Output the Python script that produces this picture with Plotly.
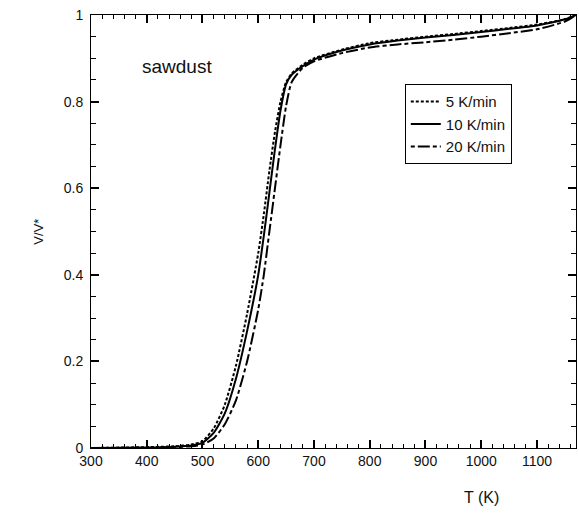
import plotly.graph_objects as go

# Temperature grid (K)
T = [300, 400, 450, 480, 500, 520, 540, 560, 580, 600, 610, 620, 630, 640, 650,
     660, 680, 700, 750, 800, 850, 900, 950, 1000, 1050, 1100, 1150, 1170]

v_5 = [0.0, 0.002, 0.004, 0.008, 0.016, 0.045, 0.10, 0.19, 0.31, 0.45, 0.54,
       0.64, 0.73, 0.80, 0.845, 0.865, 0.885, 0.90, 0.92, 0.935, 0.943, 0.950,
       0.956, 0.963, 0.970, 0.978, 0.99, 1.0]
v_10 = [0.0, 0.001, 0.003, 0.006, 0.012, 0.035, 0.08, 0.16, 0.27, 0.40, 0.49,
        0.59, 0.69, 0.78, 0.84, 0.862, 0.882, 0.897, 0.918, 0.932, 0.941, 0.948,
        0.954, 0.961, 0.968, 0.976, 0.99, 1.0]
v_20 = [0.0, 0.0, 0.002, 0.004, 0.008, 0.022, 0.055, 0.11, 0.20, 0.32, 0.40,
        0.50, 0.60, 0.70, 0.79, 0.845, 0.878, 0.893, 0.912, 0.925, 0.932, 0.937,
        0.943, 0.950, 0.958, 0.967, 0.985, 1.0]

series = [
    ("5 K/min", v_5, "3px,2px"),
    ("10 K/min", v_10, "solid"),
    ("20 K/min", v_20, "4px,3px,12px,3px"),
]

fig = go.Figure()
for name, vals, dash in series:
    fig.add_trace(go.Scatter(
        x=T, y=vals, mode="lines", name=name,
        line=dict(color="#000", width=2, dash=dash, shape="spline", smoothing=0.6),
    ))

fam = "Liberation Sans, Arial, sans-serif"

fig.update_layout(
    width=579, height=514,
    margin=dict(l=91, r=3, t=15, b=66),
    plot_bgcolor="white",
    font=dict(family=fam, size=14, color="#111"),
    showlegend=True,
    legend=dict(
        x=0.647, y=0.84, xanchor="left", yanchor="top",
        bgcolor="white", bordercolor="#000", borderwidth=1,
        font=dict(family=fam, size=15, color="#111"),
    ),
    xaxis=dict(range=[300, 1170], tick0=300, dtick=100,
               ticks="inside", ticklen=8, tickwidth=2, tickcolor="#000",
               showline=True, linecolor="#000", mirror="ticks",
               showgrid=False, zeroline=False,
               minor=dict(dtick=20, ticks="inside", ticklen=4, tickwidth=1,
                          tickcolor="#000"),
               tickfont=dict(family=fam, size=14, color="#111")),
    yaxis=dict(range=[0, 1], tick0=0, dtick=0.2,
               ticks="inside", ticklen=8, tickwidth=2, tickcolor="#000",
               showline=True, linecolor="#000", mirror="ticks",
               showgrid=False, zeroline=False,
               minor=dict(dtick=0.05, ticks="inside", ticklen=5, tickwidth=1,
                          tickcolor="#000"),
               ticksuffix=" ",
               tickfont=dict(family=fam, size=14, color="#111")),
    annotations=[
        dict(text="sawdust", x=0.1, y=0.88, xref="paper", yref="paper",
             xanchor="left", yanchor="middle", showarrow=False,
             font=dict(family=fam, size=19, color="#111")),
        dict(text="T (K)", x=0.805, y=-0.115, xref="paper", yref="paper",
             xanchor="center", yanchor="middle", showarrow=False,
             font=dict(family=fam, size=16, color="#111")),
        dict(text="V/V*", x=-0.109, y=0.5, xref="paper", yref="paper",
             xanchor="center", yanchor="middle", showarrow=False, textangle=-90,
             font=dict(family=fam, size=13, color="#111")),
    ],
)

fig.write_html("out.html")
